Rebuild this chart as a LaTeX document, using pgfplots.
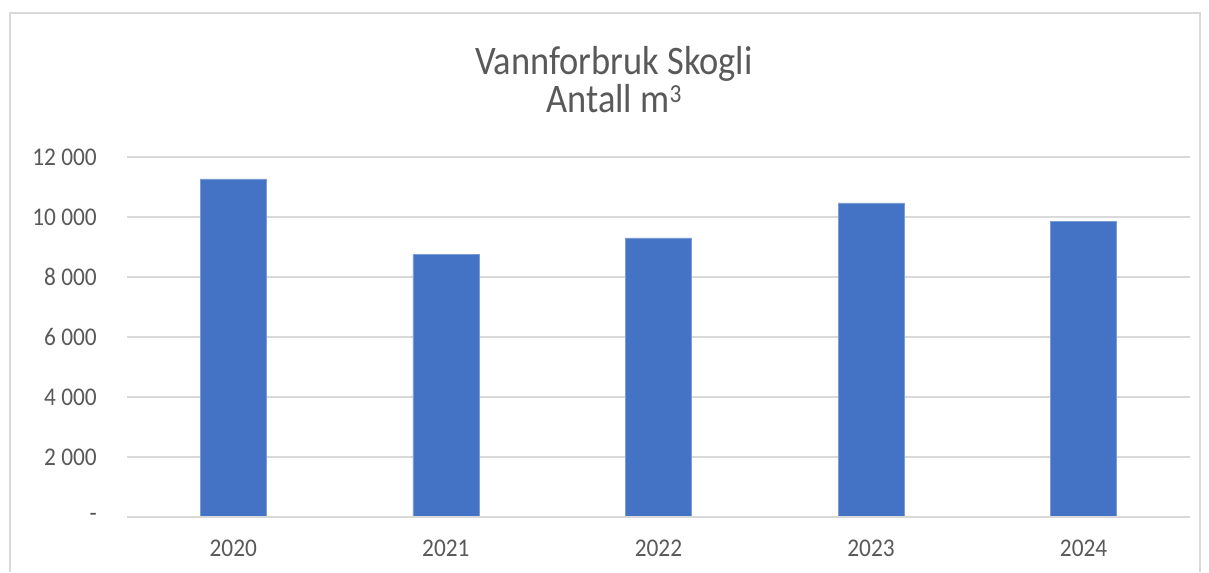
\documentclass[border=0pt]{standalone}
\usepackage{pgfplots}
\pgfplotsset{compat=1.18}
\usepackage{fontspec}
\setmainfont[FakeStretch=0.915]{Carlito}
\newfontfamily\titlefont[FakeStretch=0.9]{Carlito}
\definecolor{barblue}{HTML}{4472C4}
\definecolor{txt}{HTML}{595959}
\definecolor{gridc}{HTML}{D9D9D9}
\begin{document}
\begin{tikzpicture}[x=1pt,y=1pt]
\path (0,0) rectangle (1209,572);
\draw[gridc, line width=1.2pt] (10,0) -- (10,559) -- (1200,559) -- (1200,0);
\node[anchor=base, text=txt, inner sep=0pt, font=\titlefont\fontsize{40.5}{40}\selectfont] at (614,497) {Vannforbruk Skogli};
\node[anchor=base, text=txt, inner sep=0pt, font=\titlefont\fontsize{40.5}{40}\selectfont] at (614,459) {Antall m\raisebox{0.27em}{\fontsize{26}{26}\selectfont 3}};
\begin{axis}[
  at={(127pt,55pt)}, anchor=south west,
  scale only axis, width=1063pt, height=360pt,
  xmin=-0.5, xmax=4.5, ymin=0, ymax=12000,
  ybar, bar width=66pt,
  axis line style={draw=none},
  scaled y ticks=false,
  xtick={0,1,2,3,4}, xticklabels={2020,2021,2022,2023,2024},
  ytick={0,2000,4000,6000,8000,10000,12000},
  yticklabels={-,2 000,4 000,6 000,8 000,10 000,12 000},
  ymajorgrids, grid style={draw=gridc, line width=1.2pt},
  major tick length=0pt,
  ticklabel style={text=txt, font=\fontsize{25.5}{28}\selectfont, inner sep=0pt},
  yticklabel style={anchor=east, xshift=-30pt},
  xticklabel style={anchor=base, yshift=-39pt},
]
\addplot[fill=barblue, draw=barblue!70!white, line width=0.6pt] coordinates {(0,11270) (1,8740) (2,9300) (3,10470) (4,9850)};
\draw[gridc, line width=1.2pt] (axis cs:-0.5,0) -- (axis cs:4.5,0);
\end{axis}
\end{tikzpicture}
\end{document}
